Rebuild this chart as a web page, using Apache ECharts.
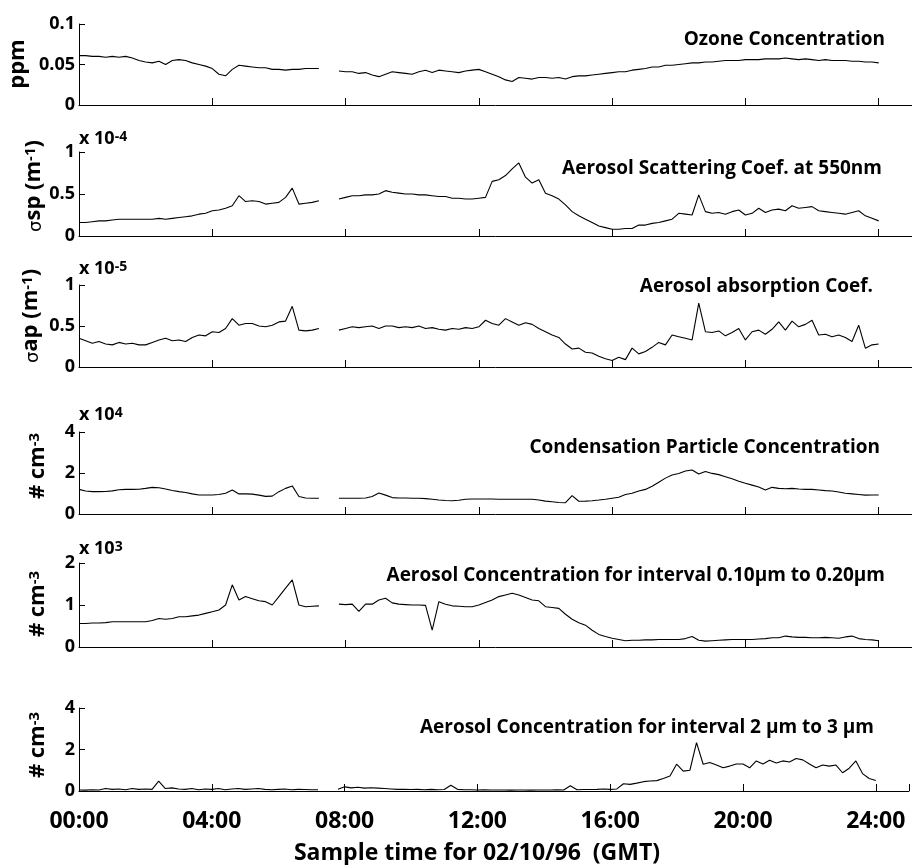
<!DOCTYPE html>
<html><head><meta charset="utf-8">
<script src="https://cdn.jsdelivr.net/npm/echarts@6/dist/echarts.min.js"></script>
<style>html,body{margin:0;padding:0;background:#fff}#c{width:912px;height:865px}</style>
</head><body><div id="c"></div>
<script>
// sample times (hours, GMT) every 0.2 h
const HOURS = [];
for (let i = 0; i <= 120; i++) HOURS.push(+(i * 0.2).toFixed(1));

const xTickHours = [0, 4, 8, 12, 16, 20, 24];
const xTickLabels = ['00:00', '04:00', '08:00', '12:00', '16:00', '20:00', '24:00'];

// Ozone concentration (ppm)
const ozone = [
  0.061,0.061,0.060,0.060,0.059,0.060,0.059,0.060,0.058,0.055,
  0.053,0.052,0.054,0.050,0.055,0.056,0.055,0.052,0.050,0.048,
  0.045,0.038,0.036,0.044,0.049,0.048,0.047,0.046,0.046,0.044,
  0.044,0.043,0.044,0.044,0.045,0.045,0.045,null,null,0.042,
  0.041,0.041,0.039,0.040,0.037,0.035,0.038,0.041,0.040,0.039,
  0.038,0.041,0.043,0.040,0.043,0.042,0.041,0.040,0.042,0.043,
  0.044,0.041,0.038,0.035,0.031,0.029,0.034,0.033,0.032,0.034,
  0.034,0.033,0.034,0.032,0.035,0.036,0.036,0.037,0.038,0.039,
  0.040,0.041,0.041,0.043,0.044,0.045,0.047,0.047,0.049,0.049,
  0.050,0.051,0.052,0.052,0.053,0.053,0.054,0.055,0.055,0.055,
  0.056,0.056,0.056,0.057,0.057,0.057,0.058,0.057,0.056,0.057,
  0.056,0.055,0.056,0.055,0.055,0.055,0.054,0.054,0.053,0.053,
  0.052
];
// Aerosol scattering coefficient at 550nm (x 1e-4 m^-1)
const scattering = [
  0.16,0.16,0.17,0.18,0.18,0.19,0.20,0.20,0.20,0.20,
  0.20,0.20,0.21,0.20,0.21,0.22,0.23,0.24,0.26,0.27,
  0.30,0.31,0.33,0.36,0.48,0.41,0.42,0.41,0.38,0.39,
  0.40,0.46,0.57,0.38,0.39,0.40,0.42,null,null,0.44,
  0.46,0.48,0.48,0.49,0.49,0.50,0.54,0.52,0.51,0.50,
  0.50,0.49,0.49,0.48,0.47,0.47,0.45,0.45,0.44,0.44,
  0.45,0.46,0.65,0.67,0.72,0.80,0.87,0.70,0.63,0.67,
  0.51,0.48,0.44,0.37,0.29,0.24,0.20,0.16,0.12,0.10,
  0.08,0.08,0.09,0.09,0.13,0.13,0.15,0.16,0.18,0.20,
  0.27,0.26,0.25,0.49,0.29,0.27,0.28,0.26,0.29,0.31,
  0.25,0.27,0.33,0.28,0.31,0.32,0.30,0.36,0.33,0.34,
  0.35,0.30,0.29,0.28,0.27,0.26,0.28,0.30,0.24,0.21,
  0.18
];
// Aerosol absorption coefficient (x 1e-5 m^-1)
const absorption = [
  0.35,0.32,0.29,0.31,0.28,0.27,0.30,0.28,0.29,0.27,
  0.27,0.30,0.33,0.35,0.32,0.33,0.31,0.36,0.39,0.38,
  0.43,0.42,0.47,0.59,0.51,0.53,0.53,0.50,0.49,0.51,
  0.55,0.56,0.74,0.45,0.44,0.45,0.47,null,null,0.45,
  0.47,0.49,0.48,0.49,0.50,0.47,0.50,0.50,0.48,0.49,
  0.48,0.50,0.47,0.48,0.46,0.45,0.47,0.46,0.48,0.47,
  0.49,0.57,0.53,0.51,0.59,0.55,0.51,0.54,0.52,0.47,
  0.43,0.39,0.36,0.28,0.22,0.23,0.18,0.17,0.13,0.10,
  0.08,0.12,0.09,0.23,0.16,0.19,0.24,0.30,0.27,0.39,
  0.37,0.35,0.33,0.78,0.43,0.42,0.44,0.38,0.42,0.47,
  0.33,0.43,0.45,0.40,0.46,0.55,0.45,0.56,0.49,0.52,
  0.57,0.39,0.40,0.37,0.39,0.36,0.31,0.51,0.23,0.27,
  0.28
];
// Condensation particle concentration (x 1e4 cm^-3)
const condensation = [
  1.20,1.12,1.09,1.09,1.10,1.13,1.18,1.20,1.20,1.21,
  1.25,1.30,1.28,1.22,1.15,1.09,1.05,0.98,0.93,0.93,
  0.93,0.95,1.01,1.17,0.98,0.98,0.97,0.92,0.86,0.87,
  1.09,1.25,1.37,0.85,0.78,0.77,0.77,null,null,0.77,
  0.77,0.77,0.77,0.78,0.85,1.02,0.92,0.80,0.78,0.78,
  0.77,0.77,0.75,0.72,0.68,0.66,0.65,0.67,0.72,0.73,
  0.73,0.73,0.73,0.72,0.72,0.72,0.72,0.72,0.72,0.68,
  0.63,0.60,0.56,0.55,0.90,0.62,0.63,0.65,0.68,0.72,
  0.77,0.82,0.95,1.01,1.12,1.20,1.35,1.55,1.75,1.90,
  1.98,2.10,2.15,1.95,2.07,1.98,1.92,1.82,1.72,1.60,
  1.50,1.41,1.32,1.17,1.30,1.25,1.23,1.25,1.22,1.20,
  1.20,1.17,1.14,1.12,1.07,1.01,0.98,0.95,0.92,0.93,
  0.93
];
// Aerosol concentration 0.10-0.20 um (x 1e3 cm^-3)
const fine = [
  0.56,0.56,0.57,0.57,0.58,0.60,0.60,0.60,0.60,0.60,
  0.60,0.63,0.68,0.66,0.68,0.72,0.72,0.74,0.76,0.80,
  0.84,0.88,1.00,1.48,1.12,1.20,1.15,1.10,1.08,1.00,
  1.20,1.40,1.60,1.00,0.96,0.97,0.98,null,null,1.02,
  1.01,1.02,0.85,1.02,1.02,1.12,1.16,1.05,1.02,1.01,
  1.00,1.00,0.99,0.40,1.08,1.02,0.98,0.97,0.96,0.96,
  1.00,1.06,1.12,1.20,1.24,1.28,1.24,1.18,1.12,1.10,
  0.96,0.94,0.92,0.78,0.66,0.58,0.52,0.40,0.30,0.25,
  0.21,0.18,0.15,0.16,0.16,0.17,0.17,0.18,0.18,0.18,
  0.18,0.20,0.25,0.16,0.14,0.15,0.16,0.17,0.18,0.18,
  0.18,0.18,0.19,0.20,0.22,0.22,0.26,0.24,0.23,0.23,
  0.22,0.22,0.23,0.22,0.21,0.24,0.26,0.20,0.18,0.17,
  0.15
];
// Aerosol concentration 2-3 um (cm^-3)
const coarse = [
  0.05,0.04,0.06,0.05,0.12,0.08,0.10,0.06,0.12,0.08,
  0.10,0.08,0.48,0.12,0.15,0.10,0.08,0.12,0.06,0.10,
  0.08,0.12,0.06,0.10,0.12,0.08,0.10,0.12,0.08,0.06,
  0.08,0.10,0.06,0.08,0.07,0.06,0.06,null,null,0.08,
  0.20,0.15,0.18,0.14,0.16,0.14,0.12,0.10,0.08,0.08,
  0.07,0.08,0.06,0.08,0.06,0.07,0.28,0.08,0.06,0.06,
  0.05,0.06,0.05,0.05,0.05,0.04,0.05,0.05,0.04,0.05,
  0.05,0.05,0.06,0.05,0.25,0.06,0.07,0.07,0.08,0.10,
  0.08,0.10,0.35,0.32,0.38,0.45,0.48,0.50,0.60,0.72,
  1.29,0.96,1.00,2.33,1.29,1.37,1.25,1.12,1.20,1.30,
  1.30,1.12,1.45,1.30,1.48,1.35,1.45,1.40,1.57,1.50,
  1.30,1.12,1.25,1.20,1.25,0.88,1.10,1.45,0.84,0.60,
  0.51
];

const seriesValues = [ozone, scattering, absorption, condensation, fine, coarse];
const yMax = [0.1, 1, 1, 4, 2, 4];
const yStep = [0.05, 0.5, 0.5, 2, 1, 2];
const panelTitles = [
  'Ozone Concentration',
  'Aerosol Scattering Coef. at 550nm',
  'Aerosol absorption Coef.',
  'Condensation Particle Concentration',
  'Aerosol Concentration for interval 0.10\u03bcm to 0.20\u03bcm',
  'Aerosol Concentration for interval 2 \u03bcm to 3 \u03bcm'
];
const xAxisTitle = 'Sample time for 02/10/96  (GMT)';

// layout (pixels)
const gridTop = [24, 152, 285, 432, 563, 708];
const gridH = [81, 84, 82, 82, 84, 83];
const titleRight = [885, 882, 873, 880, 885, 874];
const titleY = [40, 169, 287, 448, 576, 728];

const FONT = '"Open Sans", "DejaVu Sans", sans-serif';
const chart = echarts.init(document.getElementById('c'));

const grids = [], xAxes = [], yAxes = [], series = [];
for (let p = 0; p < 6; p++) {
  grids.push({ left: 79, right: 0, top: gridTop[p], height: gridH[p], containLabel: false });
  xAxes.push({
    type: 'value', gridIndex: p, min: 0, max: 25, interval: 4,
    axisLine: { lineStyle: { color: '#000', width: 1 } },
    axisTick: { inside: true, length: 7, lineStyle: { color: '#000' } },
    splitLine: { show: false },
    axisLabel: {
      show: p === 5, color: '#000', fontFamily: FONT, fontWeight: 'bold', fontSize: 23, margin: 19,
      formatter: v => { const k = xTickHours.indexOf(v); return k >= 0 ? xTickLabels[k] : ''; }
    }
  });
  yAxes.push({
    type: 'value', gridIndex: p, min: 0, max: yMax[p], interval: yStep[p],
    axisLine: { show: true, lineStyle: { color: '#000', width: 1 } },
    axisTick: { show: true, inside: true, length: 6, lineStyle: { color: '#000' } },
    splitLine: { show: false },
    axisLabel: { color: '#000', fontFamily: FONT, fontWeight: 'bold', fontSize: 18, margin: 4,
      formatter: v => String(+v.toFixed(3)) }
  });
  series.push({
    type: 'line', xAxisIndex: p, yAxisIndex: p, showSymbol: false, symbol: 'none',
    lineStyle: { color: '#000', width: 1.1 }, connectNulls: false, animation: false,
    data: HOURS.map((h, i) => [h, seriesValues[p][i]])
  });
}

const big = { fontFamily: FONT, fontWeight: 'bold', fontSize: 22, fill: '#000', verticalAlign: 'bottom' };
const sup = { fontFamily: FONT, fontWeight: 'bold', fontSize: 15, fill: '#000', verticalAlign: 'top' };
const sig = { fontFamily: 'DejaVu Sans, sans-serif', fontSize: 18, fill: '#000', verticalAlign: 'bottom' };
const richY = { b: big, s: sup, g: sig };

function rotText(x, y, text) {
  return { type: 'text', x, y, rotation: Math.PI / 2, silent: true,
    style: { text, rich: richY, align: 'center', verticalAlign: 'middle', fill: '#000' } };
}
const richX = {
  b: { fontFamily: FONT, fontWeight: 'bold', fontSize: 18, fill: '#000', verticalAlign: 'bottom' },
  s: { fontFamily: FONT, fontWeight: 'bold', fontSize: 14, fill: '#000', verticalAlign: 'top' }
};
function expText(x, y, text) {
  return { type: 'text', x, y, silent: true,
    style: { text, rich: richX, align: 'left', verticalAlign: 'middle', fill: '#000' } };
}

const graphics = [
  rotText(18, 64, '{b|ppm}'),
  rotText(34, 186, '{g|\u03c3}{b|sp (m}{s|-1}{b|)}'),
  rotText(31, 316, '{g|\u03c3}{b|ap (m}{s|-1}{b|)}'),
  rotText(38, 466, '{b|# cm}{s|-3}'),
  rotText(38, 604, '{b|# cm}{s|-3}'),
  rotText(38, 745, '{b|# cm}{s|-3}'),
  expText(79, 139, '{b|x 10}{s|-4}'),
  expText(79, 269, '{b|x 10}{s|-5}'),
  expText(79, 415, '{b|x 10}{s|4}'),
  expText(79, 549, '{b|x 10}{s|3}'),
  { type: 'text', x: 477, y: 853, silent: true,
    style: { text: xAxisTitle, fontFamily: FONT, fontWeight: 'bold', fontSize: 23, fill: '#000',
      align: 'center', verticalAlign: 'middle' } }
];
for (let p = 0; p < 6; p++) {
  graphics.push({ type: 'text', x: titleRight[p], y: titleY[p], silent: true,
    style: { text: panelTitles[p], fontFamily: FONT, fontWeight: 'bold', fontSize: 19, fill: '#000',
      align: 'right', verticalAlign: 'middle' } });
}

chart.setOption({
  animation: false,
  backgroundColor: '#fff',
  grid: grids, xAxis: xAxes, yAxis: yAxes, series: series,
  graphic: graphics
});
</script></body></html>
